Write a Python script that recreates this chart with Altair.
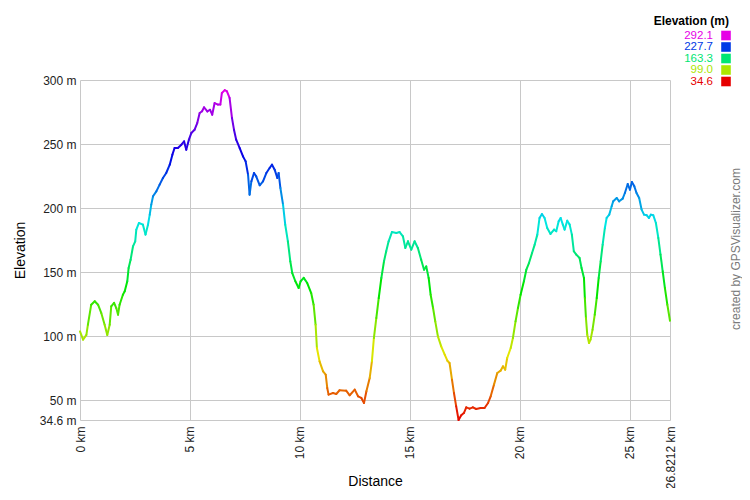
import colorsys
import altair as alt
import pandas as pd

# ---- data ----
distance_km = [
    0.0, 0.14, 0.29, 0.36, 0.51, 0.67, 0.82, 0.97, 1.12, 1.24, 1.35, 1.42, 1.55, 1.65, 1.73, 1.80,
    1.95, 2.03, 2.15, 2.21, 2.30, 2.41, 2.51, 2.56, 2.68, 2.86, 2.98, 3.09, 3.17, 3.24, 3.32, 3.47,
    3.62, 3.77, 3.92, 4.08, 4.20, 4.30, 4.45, 4.61, 4.73, 4.83, 4.95, 5.06, 5.21, 5.33, 5.44, 5.55,
    5.64, 5.79, 5.91, 6.01, 6.12, 6.27, 6.38, 6.45, 6.58, 6.68, 6.80, 6.91, 7.00, 7.10, 7.26, 7.41,
    7.53, 7.64, 7.71,
    7.79, 7.91, 8.01, 8.17, 8.32, 8.47, 8.62, 8.73, 8.85, 8.97, 9.03, 9.11, 9.23, 9.33, 9.45, 9.56,
    9.65, 9.79, 9.94, 10.03, 10.17, 10.33, 10.51, 10.62, 10.71, 10.77, 10.89, 11.05, 11.17, 11.24,
    11.30, 11.50, 11.65, 11.80, 12.10, 12.26, 12.49, 12.64, 12.79, 12.91, 13.02, 13.17, 13.27, 13.36,
    13.47, 13.58, 13.70, 13.82, 13.92, 14.03, 14.18, 14.38, 14.53, 14.68, 14.79, 14.91, 15.06, 15.21,
    15.36,
    15.51, 15.64, 15.74, 15.85, 15.94, 16.05, 16.15, 16.27, 16.42, 16.58, 16.70, 16.80, 16.91, 17.00,
    17.10, 17.21, 17.33, 17.45, 17.56, 17.71, 17.86, 18.01, 18.21, 18.39, 18.55, 18.67, 18.82, 18.97,
    19.12, 19.23, 19.33, 19.42, 19.58, 19.68, 19.80, 19.91, 20.03, 20.18, 20.29, 20.41, 20.55, 20.67,
    20.79, 20.89, 21.00, 21.12, 21.24, 21.39, 21.55, 21.65, 21.76, 21.85, 21.95, 22.03, 22.15, 22.26,
    22.36, 22.45, 22.56, 22.71,
    22.80, 22.91, 22.95, 23.00, 23.06, 23.14, 23.21, 23.30, 23.40, 23.49, 23.58, 23.67, 23.76, 23.86,
    23.94, 24.06, 24.17, 24.24, 24.40, 24.51, 24.67, 24.77, 24.90, 25.00, 25.09, 25.20, 25.30, 25.42,
    25.53, 25.64, 25.76, 25.86, 25.95, 26.06, 26.18, 26.29, 26.39, 26.49, 26.59, 26.70, 26.8212,
]
elevation_m = [
    103.8, 97.3, 101.0, 109.0, 124.6, 127.3, 124.6, 118.0, 109.0, 101.0, 109.0, 123.3, 126.0, 122.0, 116.8, 124.6,
    132.4, 135.0, 142.9, 153.2, 159.7, 170.2, 174.1, 183.2, 188.4, 187.1, 179.3, 187.0, 194.9, 202.7, 209.2, 213.1,
    218.3, 223.5, 227.4, 233.9, 241.7, 246.9, 246.9, 249.5, 252.1, 245.6, 253.4, 258.6, 261.2, 266.4, 274.2, 275.6,
    278.7, 275.5, 276.8, 272.9, 282.0, 280.8, 280.8, 289.9, 292.1, 291.2, 286.0, 270.3, 261.2, 253.4, 246.9, 240.4,
    236.5, 226.1, 210.5,
    220.9, 227.4, 224.8, 217.8, 220.9, 227.4, 231.3, 233.9, 230.0, 223.5, 227.4, 215.7, 202.7, 187.0, 174.1, 158.5,
    149.3, 142.9, 137.6, 142.9, 145.5, 141.5, 133.7, 124.6, 109.0, 90.8, 80.4, 72.6, 70.0, 59.6,
    54.4, 55.7, 54.9, 57.8, 57.5, 53.9, 58.3, 53.1, 51.8, 47.9, 57.0, 67.4, 80.4, 98.6,
    114.2, 129.8, 145.5, 158.5, 166.3, 174.1, 181.3, 180.6, 181.3, 178.0, 168.9, 174.1, 167.6, 174.1,
    168.9,
    159.7, 151.9, 154.5, 145.5, 132.4, 122.0, 111.6, 99.9, 92.1, 85.6, 80.9, 79.1, 66.1, 55.7,
    45.4, 34.6, 38.3, 40.0, 44.5, 43.5, 44.5, 43.2, 44.0, 44.0, 47.9, 53.1, 62.2, 71.3,
    73.1, 76.5, 73.9, 83.0, 90.8, 98.6, 111.6, 122.0, 132.4, 142.9, 151.9, 157.1, 164.9, 171.5,
    179.3, 192.3, 195.4, 192.3, 184.5, 179.8, 183.2, 181.9, 189.7, 192.3, 187.1, 183.2, 190.2, 187.1,
    179.3, 166.3, 163.7, 161.1,
    153.2, 145.5, 129.8, 114.2, 101.2, 94.7, 97.3, 105.1, 116.8, 129.8, 145.5, 158.5, 171.5, 184.5,
    192.3, 194.9, 201.4, 205.3, 207.9, 205.3, 207.4, 211.8, 218.8, 214.4, 220.4, 217.0, 211.8, 207.9,
    198.8, 194.9, 194.5, 192.3, 194.9, 194.5, 188.4, 176.7, 163.7, 150.7, 137.6, 124.6, 112.1,
]
legend_values = [292.1, 227.7, 163.3, 99.0, 34.6]
legend_labels = ["292.1", "227.7", "163.3", "99.0", "34.6"]
legend_rows = [0, 1, 2, 3, 4]
x_ticks = [0, 5, 10, 15, 20, 25, 26.8212]
y_ticks = [34.6, 50, 100, 150, 200, 250, 300]
legend_title = "Elevation (m)"
watermark = "created by GPSVisualizer.com"

E_MIN, E_MAX = 34.6, 292.1
FONT = "Liberation Sans"

# rainbow colour scale: hue 0 (red) at min .. hue 300 (magenta) at max
stops, colors = [], []
for h in range(0, 301, 15):
    stops.append(E_MIN + (E_MAX - E_MIN) * h / 300)
    r, g, b = colorsys.hsv_to_rgb(h / 360, 1, 0.9)
    colors.append("#%02x%02x%02x" % (round(r * 255), round(g * 255), round(b * 255)))
color_scale = alt.Scale(domain=stops, range=colors, interpolate="rgb")

seg = pd.DataFrame({
    "x": distance_km[:-1], "x2": distance_km[1:],
    "y": elevation_m[:-1], "y2": elevation_m[1:],
})
seg["c"] = (seg["y"] + seg["y2"]) / 2

line = alt.Chart(seg).mark_rule(strokeWidth=2, strokeCap="round").encode(
    x=alt.X("x:Q",
            scale=alt.Scale(domain=[0, 26.8212], nice=False, zero=False),
            axis=alt.Axis(values=x_ticks, labelExpr="datum.value + ' km'", labelAngle=270,
                          title="Distance", titleX=295, titleY=61, titleBaseline="middle",
                          titleAlign="center", labelPadding=6, labelOverlap=False,
                          labelFlush=False, grid=True)),
    x2="x2",
    y=alt.Y("y:Q",
            scale=alt.Scale(domain=[E_MIN, 300], nice=False, zero=False),
            axis=alt.Axis(values=y_ticks, labelExpr="datum.value + ' m'",
                          title="Elevation", titleAngle=270, titleX=-60, titleY=170,
                          titleAlign="center", titleBaseline="middle", labelPadding=4,
                          labelOverlap=False, labelFlush=False, grid=True)),
    y2="y2",
    color=alt.Color("c:Q", scale=color_scale, legend=None),
)

leg_df = pd.DataFrame({"v": legend_values, "label": legend_labels, "row": legend_rows})
leg_y = alt.Y("row:Q", scale=alt.Scale(domain=[0, 4], range=[-44.5, 1.5]), axis=None)

leg_text = alt.Chart(leg_df).mark_text(
    align="right", baseline="middle", fontSize=11.5, font=FONT
).encode(
    x=alt.value(633), y=leg_y, text="label:N",
    color=alt.Color("v:Q", scale=color_scale, legend=None),
)
leg_sq = alt.Chart(leg_df).mark_square(size=92, opacity=1, filled=True).encode(
    x=alt.value(646), y=leg_y,
    color=alt.Color("v:Q", scale=color_scale, legend=None),
)
leg_title = alt.Chart(pd.DataFrame({"t": [legend_title]})).mark_text(
    align="right", baseline="middle", fontSize=12, fontWeight="bold", font=FONT, color="#000"
).encode(x=alt.value(649), y=alt.value(-59), text="t:N")

wm = alt.Chart(pd.DataFrame({"t": [watermark]})).mark_text(
    angle=270, align="center", baseline="middle", fontSize=12, font=FONT, color="#7a7a7a"
).encode(x=alt.value(656), y=alt.value(169), text="t:N")

chart = alt.layer(line, leg_text, leg_sq, leg_title, wm).resolve_scale(
    y="independent"
).properties(
    width=590, height=340,
    padding={"left": 72, "top": 72, "right": 72, "bottom": 68},
    autosize=alt.AutoSizeParams(type="none"),
).configure_axis(
    labelFont=FONT, labelFontSize=12, labelColor="#222",
    titleFont=FONT, titleFontSize=14, titleFontWeight="normal", titleColor="#000",
    gridColor="#c8c8c8", gridWidth=1, domain=False, ticks=False, tickSize=0,
).configure_view(stroke=None)

chart.save("out.html", embed_options={"renderer": "svg", "actions": False})
